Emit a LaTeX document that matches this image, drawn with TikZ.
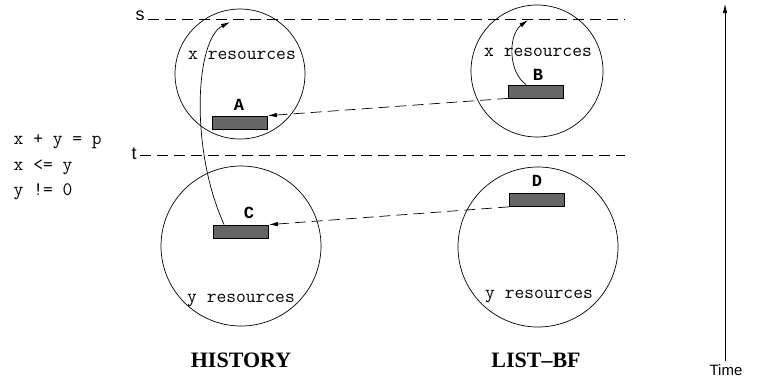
\documentclass[tikz,border=0pt]{standalone}
\usepackage{fontspec}
\setmainfont{Liberation Serif}
\setsansfont{Liberation Sans}
\newfontfamily\tagfont{Liberation Mono}
\usetikzlibrary{arrows.meta}

\begin{document}
\begin{tikzpicture}[x=1pt,y=-1pt,line width=0.7pt,
    pool/.style={draw,circle,inner sep=0pt},
    block/.style={draw,fill=black!60,minimum width=55pt,minimum height=13pt,inner sep=0pt},
    tag/.style={font=\fontsize{17}{17}\tagfont\bfseries},
    res/.style={font=\fontsize{19}{19}\ttfamily},
    title/.style={font=\fontsize{22}{22}\rmfamily\bfseries},
    mark line/.style={dash pattern=on 11pt off 6pt},
    move/.style={-{Latex[length=9pt,width=4.5pt]}}]
  \useasboundingbox (0,0) rectangle (758,384);

  % TIME LINES
  \node[font=\fontsize{18}{18}\sffamily] (s) at (140,16) {s};
  \node[font=\fontsize{18}{18}\sffamily] (t) at (134,154) {t};
  \coordinate (s end) at (625,19);
  \coordinate (t end) at (625,155);
  \draw[mark line] (s.east |- s end) -- (s end);
  \draw[mark line] (t.east |- t end) -- (t end);

  % POOLS
  \node[pool,minimum size=130pt] (hx) at (240,74) {};
  \node[pool,minimum size=132pt] (lx) at (537,71) {};
  \node[pool,minimum size=160pt] (hy) at (241,246) {};
  \node[pool,minimum size=160pt] (ly) at (538,247) {};

  \node[res] at (242,55) {x resources};
  \node[res] at (538,52) {x resources};
  \node[res] at (241,300) {y resources};
  \node[res] at (539,296) {y resources};

  % REQUESTS
  \node[block] (A) at (240,122.5) {};
  \node[block] (B) at (536,91.5) {};
  \node[block] (C) at (241,231.5) {};
  \node[block] (D) at (537,200) {};
  \node[tag] at (239,105) {A};
  \node[tag] at (538,75) {B};
  \node[tag] at (249,213) {C};
  \node[tag] at (537,181) {D};

  % ARROWS
  \coordinate (c top) at (230,22);
  \coordinate (b top) at (528,20);
  \draw[move] ([xshift=11pt]C.north west) .. controls (190,150) and (195,40) .. (c top);
  \draw[move] ([xshift=18pt]B.north west) .. controls (508,72) and (508,35) .. (b top);
  \draw[move,mark line] (B.south west) -- (A.north east);
  \draw[move,mark line] (D.south west) -- (C.north east);

  % NOTES
  \node[res,anchor=west] (eq1) at (10,142) {x + y = p};
  \node[res,anchor=west] (eq2) at (10,167) {x <= y};
  \node[res,anchor=west] (eq3) at (10,192) {y != 0};

  \node[title] (history) at (241,360) {HISTORY};
  \node[title] (listbf) at (536,360) {LIST--BF};

  \coordinate (time top) at (725,4);
  \node[font=\fontsize{15}{15}\sffamily] (time) at (726,370) {Time};
  \draw[move] (time.north -| time top) -- (time top);
\end{tikzpicture}
\end{document}
